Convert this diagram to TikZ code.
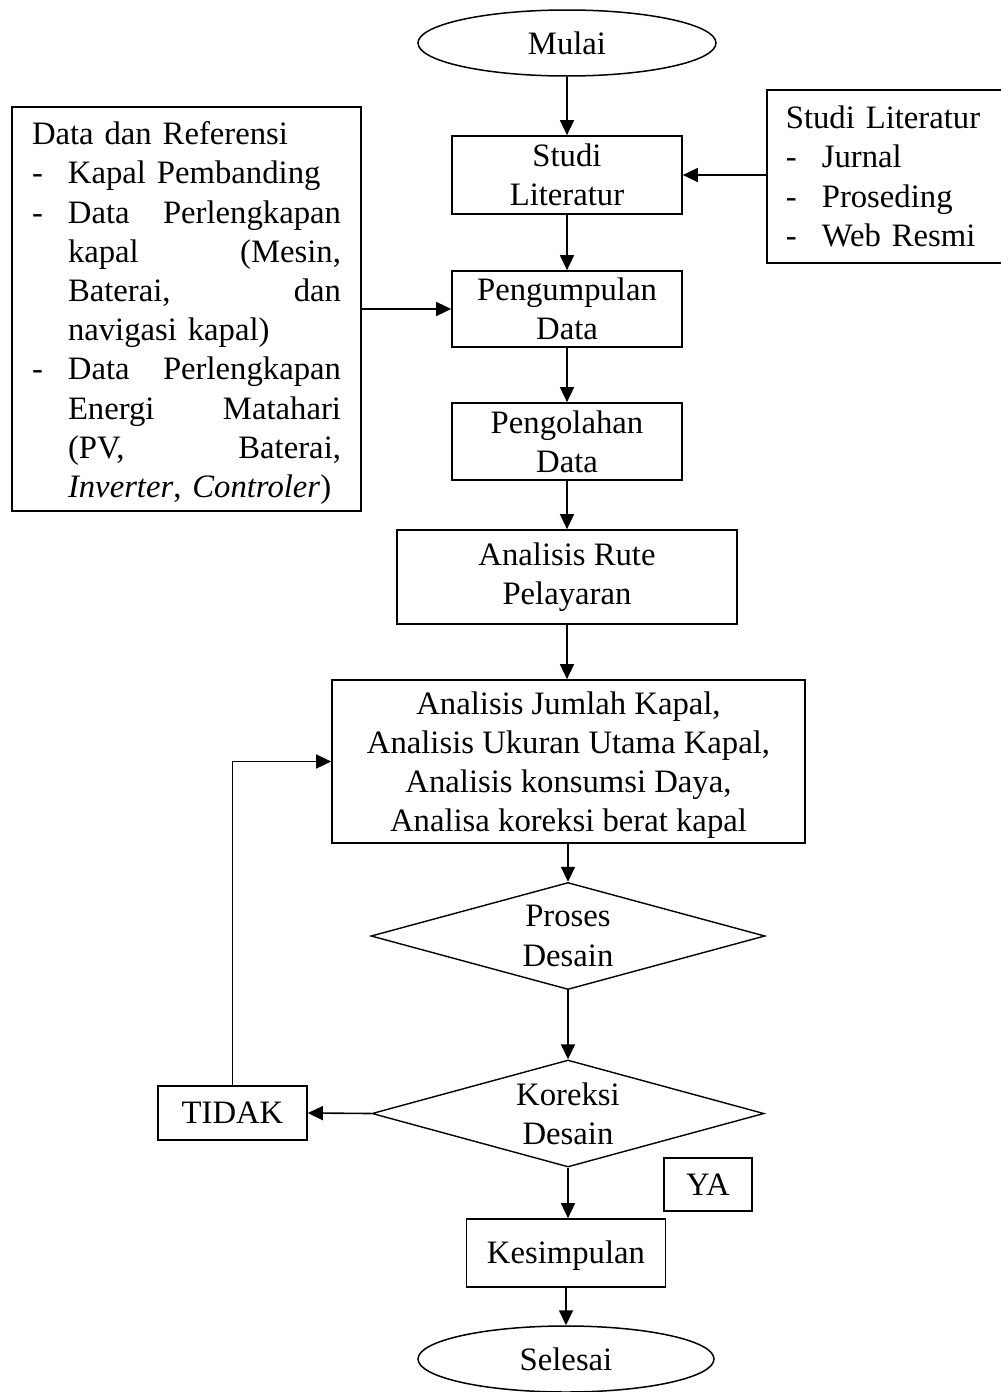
\documentclass[tikz,border=0pt]{standalone}
\usepackage{fontspec}
\setmainfont{Liberation Serif}
\usetikzlibrary{shapes.geometric,arrows.meta}
\setlength{\parindent}{0pt}
\newcommand{\itemdash}{\makebox[36pt][l]{-}}
\newcommand{\itemind}{\hspace*{36pt}}
\begin{document}
\begin{tikzpicture}[x=1pt,y=-1pt,
  every node/.style={font=\fontsize{32.7}{39.2}\selectfont, inner sep=0pt, line width=1.7pt},
  box/.style={draw, rectangle, align=center},
  term/.style={draw, ellipse, line width=1.5pt},
  dia/.style={draw, diamond, line width=1.4pt},
  arr/.style={line width=1.6pt, -{Triangle[length=15pt,width=14pt]}}
]
\fill[white] (0,0) rectangle (1001,1392);
\useasboundingbox (0,0) rectangle (1001,1392);

\node[term, minimum width=298pt, minimum height=66pt] (mulai) at (567,43) {Mulai};
\node[box, minimum width=230pt, minimum height=78pt] (studi) at (567,175) {Studi\\Literatur};
\node[box, minimum width=230pt, minimum height=76pt] (kump) at (567,309) {Pengumpulan\\Data};
\node[box, minimum width=230pt, minimum height=77pt] (olah) at (567,441.5) {Pengolahan\\Data};
\node[box, minimum width=340pt, minimum height=94pt] (rute) at (567,577) {Analisis Rute\\Pelayaran};
\node[box, minimum width=473pt, minimum height=163pt] (big) at (568.5,761.5)
  {\rule{0pt}{30pt}Analisis Jumlah Kapal,\\Analisis Ukuran Utama Kapal,\\Analisis konsumsi Daya,\\Analisa koreksi berat kapal};
\node[dia, minimum width=394pt, minimum height=107pt] (proses) at (568,936) {};
\node[align=center] (prosesT) at (proses.center) {Proses\\Desain};
\node[dia, minimum width=392pt, minimum height=107pt] (koreksi) at (568,1113.5) {};
\node[align=center] (koreksiT) at (koreksi.center) {Koreksi\\Desain};
\node[box, minimum width=149pt, minimum height=54pt] (tidak) at (232.5,1113) {TIDAK};
\node[box, minimum width=88pt, minimum height=53pt] (ya) at (708,1184.5) {YA};
\node[box, minimum width=199pt, minimum height=68pt] (kes) at (566,1253) {\rule{0pt}{27pt}Kesimpulan};
\node[term, minimum width=296pt, minimum height=66pt] (selesai) at (566,1359) {Selesai};

\node[box, align=left, text width=309pt, minimum width=349pt, minimum height=404pt] (data) at (186.5,309) {%
\rule{0pt}{31pt}Data dan Referensi\\
\itemdash Kapal Pembanding\\
\itemdash Data\hfill Perlengkapan\\
\itemind kapal\hfill (Mesin,\\
\itemind Baterai,\hfill dan\\
\itemind navigasi kapal)\\
\itemdash Data\hfill Perlengkapan\\
\itemind Energi\hfill Matahari\\
\itemind (PV,\hfill Baterai,\\
\itemind \textit{Inverter}, \textit{Controler})};

\node[box, align=left, text width=216pt, minimum width=254pt, minimum height=173pt, anchor=north west] (sl) at (766,89) {%
Studi Literatur\\
\itemdash Jurnal\\
\itemdash Proseding\\
\itemdash Web Resmi};

\draw[arr] (mulai) -- (studi);
\draw[arr] (studi.east -| sl.west) -- (studi.east);
\draw[arr] (studi) -- (kump);
\draw[arr] (kump.west -| data.east) -- (kump.west);
\draw[arr] (kump) -- (olah);
\draw[arr] (olah) -- (rute);
\draw[arr] (rute) -- (rute.south |- big.north);
\draw[arr] (big.south -| proses.north) -- (proses.north);
\draw[arr] (proses.south) -- (koreksi.north);
\draw[arr] (koreksi.west) -- (tidak.east);
\draw[arr] (tidak.north) |- (big.west);
\draw[arr] (koreksi.south) -- (koreksi.south |- kes.north);
\draw[arr] (kes) -- (selesai);
\end{tikzpicture}
\end{document}
